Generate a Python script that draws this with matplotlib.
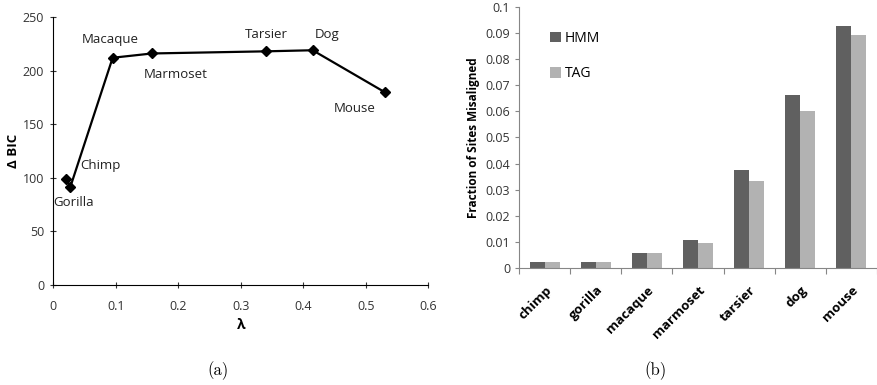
import numpy as np
import matplotlib.pyplot as plt

plt.rcParams['font.family'] = ['Open Sans', 'DejaVu Sans']

# (a) delta BIC against lambda for each species
lam = [0.021, 0.027, 0.095, 0.158, 0.341, 0.415, 0.530]
dbic = [99, 91, 212, 216, 218, 219, 180]
species_a = ['Gorilla', 'Chimp', 'Macaque', 'Marmoset', 'Tarsier', 'Dog', 'Mouse']
# label offsets in points
offsets = [(5, -17), (22, 15.5), (-2, 13), (17, -15), (0, 12), (10.5, 11), (-21.5, -11.5)]

# (b) misaligned fraction per species
species_b = ['chimp', 'gorilla', 'macaque', 'marmoset', 'tarsier', 'dog', 'mouse']
hmm = [0.0023, 0.0023, 0.0060, 0.0108, 0.0377, 0.0661, 0.0927]
tag = [0.0023, 0.0023, 0.0060, 0.0096, 0.0335, 0.0600, 0.0892]

fig = plt.figure(figsize=(8.78, 3.85), dpi=100)

ax1 = fig.add_axes([0.0607, 0.2597, 0.4271, 0.6961])
ax1.plot(lam, dbic, color='black', lw=1.6, marker='D', ms=5)
for x, y, s, (dx, dy) in zip(lam, dbic, species_a, offsets):
    ax1.annotate(s, (x, y), xytext=(dx, dy), textcoords='offset points',
                 ha='center', va='center', fontsize=9.5, color='#222222')
ax1.set_xlim(0, 0.6)
ax1.set_ylim(0, 250)
ax1.set_xticks(np.arange(0, 0.61, 0.1))
ax1.set_xticklabels(['0', '0.1', '0.2', '0.3', '0.4', '0.5', '0.6'])
ax1.set_yticks(range(0, 251, 50))
ax1.spines['top'].set_visible(False)
ax1.spines['right'].set_visible(False)
ax1.tick_params(direction='inout', length=5, labelsize=9, colors='#333333', pad=8)
ax1.tick_params(axis='y', pad=4)
ax1.set_xlabel('λ', fontweight='bold', fontsize=10, labelpad=4)
ax1.set_ylabel('Δ BIC', fontweight='bold', fontsize=9.5, labelpad=2)

ax2 = fig.add_axes([0.5915, 0.3031, 0.4070, 0.6796])
pos = np.arange(len(species_b))
w = 0.295
ax2.bar(pos - w / 2, hmm, w, color='#606060', label='HMM')
ax2.bar(pos + w / 2, tag, w, color='#b2b2b2', label='TAG')
ax2.set_xlim(-0.5, len(species_b) - 0.5)
ax2.set_ylim(0, 0.1)
ax2.set_yticks(np.arange(0, 0.101, 0.01))
ax2.set_yticklabels(['0', '0.01', '0.02', '0.03', '0.04', '0.05', '0.06',
                     '0.07', '0.08', '0.09', '0.1'])
ax2.set_xticks(np.arange(-0.5, len(species_b), 1.0))
ax2.set_xticklabels([])
ax2.set_xticks(pos, minor=True)
ax2.set_xticklabels(species_b, minor=True, rotation=45, ha='right',
                    rotation_mode='anchor', fontweight='bold', fontsize=9.5)
ax2.tick_params(axis='x', which='minor', length=0, pad=11)
ax2.tick_params(axis='x', which='major', length=4, color='#868686')
ax2.tick_params(axis='y', length=3, color='#868686', labelsize=9, labelcolor='#333333')
for side in ['top', 'right']:
    ax2.spines[side].set_visible(False)
for side in ['left', 'bottom']:
    ax2.spines[side].set_color('#868686')
ax2.set_ylabel('Fraction of Sites Misaligned', fontweight='bold', fontsize=8.5, labelpad=4)
ax2.legend(loc='upper left', bbox_to_anchor=(0.05, 0.955), frameon=False,
           fontsize=10, handlelength=0.8, handleheight=0.8, handletextpad=0.3,
           labelspacing=1.45)

fig.text(0.248, 0.025, '(a)', family='cmr10', fontsize=12, ha='center')
fig.text(0.747, 0.025, '(b)', family='cmr10', fontsize=12, ha='center')

fig.savefig('out.png', dpi=100)
